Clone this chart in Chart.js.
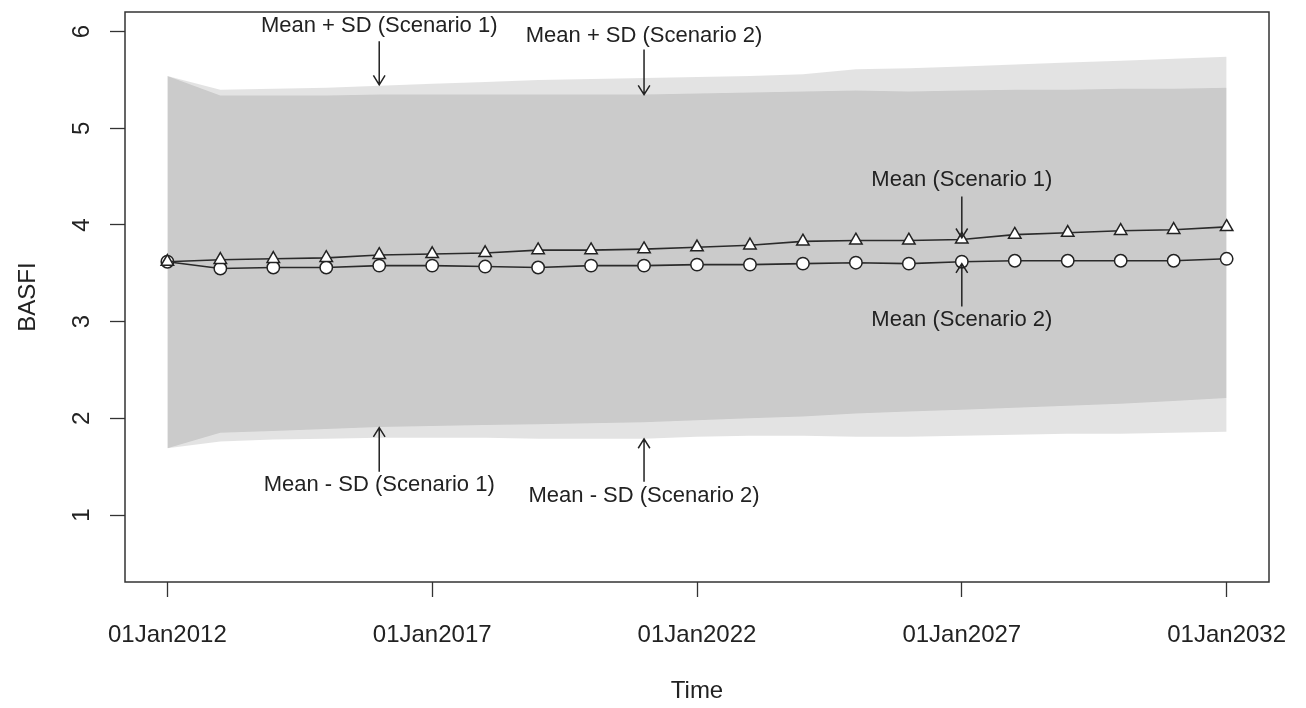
<!DOCTYPE html>
<html>
<head>
<meta charset="utf-8">
<script src="https://cdn.jsdelivr.net/npm/chart.js@4/dist/chart.umd.min.js"></script>
<style>
  html, body { margin: 0; padding: 0; background: #ffffff; }
  canvas { display: block; }
</style>
</head>
<body>
<canvas id="c" width="1306" height="708"></canvas>
<script>
// ---------- data ----------
const years = [2012,2013,2014,2015,2016,2017,2018,2019,2020,2021,2022,2023,2024,2025,2026,2027,2028,2029,2030,2031,2032];

// Mean BASFI, scenario 1 (triangles) and scenario 2 (circles)
const meanScenario1 = [3.62,3.64,3.65,3.66,3.69,3.70,3.71,3.74,3.74,3.75,3.77,3.79,3.83,3.84,3.84,3.85,3.90,3.92,3.94,3.95,3.98];
const meanScenario2 = [3.62,3.55,3.56,3.56,3.58,3.58,3.57,3.56,3.58,3.58,3.59,3.59,3.60,3.61,3.60,3.62,3.63,3.63,3.63,3.63,3.65];

// Mean + SD / Mean - SD bands
const upperScenario1 = [5.54,5.40,5.41,5.42,5.44,5.46,5.48,5.50,5.51,5.52,5.53,5.54,5.56,5.61,5.62,5.64,5.66,5.68,5.70,5.72,5.74];
const lowerScenario1 = [1.69,1.85,1.87,1.89,1.91,1.92,1.93,1.94,1.95,1.96,1.98,2.00,2.02,2.05,2.07,2.09,2.11,2.13,2.15,2.18,2.21];
const upperScenario2 = [5.54,5.34,5.34,5.34,5.35,5.35,5.35,5.35,5.35,5.35,5.36,5.37,5.38,5.39,5.38,5.39,5.40,5.40,5.41,5.41,5.42];
const lowerScenario2 = [1.69,1.76,1.78,1.79,1.80,1.80,1.80,1.79,1.79,1.79,1.81,1.82,1.82,1.81,1.81,1.82,1.83,1.84,1.84,1.85,1.86];

// axis ticks
const xTickYears = [2012,2017,2022,2027,2032];
const xTickLabels = ['01Jan2012','01Jan2017','01Jan2022','01Jan2027','01Jan2032'];
const yTickValues = [1,2,3,4,5,6];

// annotations (label, year, text value, arrow start value, arrow tip value)
const annoLabels = ['Mean + SD (Scenario 1)','Mean + SD (Scenario 2)','Mean (Scenario 1)','Mean (Scenario 2)','Mean - SD (Scenario 1)','Mean - SD (Scenario 2)'];
const annoYears = [2016,2021,2027,2027,2016,2021];
const annoTextValues = [6.055,5.951,4.461,3.019,1.311,1.200];
const annoArrowFrom = [5.900,5.814,4.295,3.156,1.448,1.345];
const annoArrowTo = [5.450,5.348,3.867,3.600,1.904,1.787];

// ---------- chart ----------
const FONT = "'Liberation Sans', Arial, sans-serif";
const TEXT = '#222222';
const AXIS = '#333333';
const pts = arr => years.map((yr, i) => ({x: yr, y: arr[i]}));
const bandFill = 'rgba(0,0,0,0.11)';

const annotationPlugin = {
  id: 'annotations',
  afterDatasetsDraw(chart) {
    const {ctx, scales: {x, y}} = chart;
    ctx.save();
    ctx.font = '22px ' + FONT;
    ctx.fillStyle = TEXT;
    ctx.strokeStyle = '#222222';
    ctx.lineWidth = 1.5;
    ctx.textAlign = 'center';
    ctx.textBaseline = 'middle';
    for (let i = 0; i < annoLabels.length; i++) {
      const px = x.getPixelForValue(annoYears[i]);
      ctx.fillText(annoLabels[i], px, y.getPixelForValue(annoTextValues[i]));
      const y0 = y.getPixelForValue(annoArrowFrom[i]);
      const y1 = y.getPixelForValue(annoArrowTo[i]);
      ctx.beginPath();
      ctx.moveTo(px, y0);
      ctx.lineTo(px, y1);
      const ang = Math.atan2(y1 - y0, 0);
      const L = 11, a = Math.PI / 180 * 32;
      ctx.moveTo(px - L * Math.cos(ang - a), y1 - L * Math.sin(ang - a));
      ctx.lineTo(px, y1);
      ctx.lineTo(px - L * Math.cos(ang + a), y1 - L * Math.sin(ang + a));
      ctx.stroke();
    }
    ctx.restore();
  },
  afterDraw(chart) {
    const {ctx, chartArea: a} = chart;
    ctx.save();
    ctx.strokeStyle = AXIS;
    ctx.lineWidth = 1.5;
    ctx.strokeRect(a.left, a.top, a.right - a.left, a.bottom - a.top);
    ctx.restore();
  }
};

new Chart(document.getElementById('c'), {
  type: 'line',
  data: {
    datasets: [
      {
        label: 'Mean (Scenario 1)', data: pts(meanScenario1),
        borderColor: '#2b2b2b', borderWidth: 1.6, tension: 0, fill: false,
        pointStyle: 'triangle', pointRadius: 7.2, pointBackgroundColor: '#ffffff',
        pointBorderColor: '#222222', pointBorderWidth: 1.5
      },
      {
        label: 'Mean (Scenario 2)', data: pts(meanScenario2),
        borderColor: '#2b2b2b', borderWidth: 1.6, tension: 0, fill: false,
        pointStyle: 'circle', pointRadius: 6.2, pointBackgroundColor: '#ffffff',
        pointBorderColor: '#222222', pointBorderWidth: 1.5
      },
      {
        label: 'Mean + SD (Scenario 1)', data: pts(upperScenario1),
        borderWidth: 0, borderColor: 'rgba(0,0,0,0)', pointRadius: 0, tension: 0,
        fill: '+1', backgroundColor: bandFill
      },
      {
        label: 'Mean - SD (Scenario 1)', data: pts(lowerScenario1),
        borderWidth: 0, borderColor: 'rgba(0,0,0,0)', pointRadius: 0, tension: 0, fill: false
      },
      {
        label: 'Mean + SD (Scenario 2)', data: pts(upperScenario2),
        borderWidth: 0, borderColor: 'rgba(0,0,0,0)', pointRadius: 0, tension: 0,
        fill: '+1', backgroundColor: bandFill
      },
      {
        label: 'Mean - SD (Scenario 2)', data: pts(lowerScenario2),
        borderWidth: 0, borderColor: 'rgba(0,0,0,0)', pointRadius: 0, tension: 0, fill: false
      }
    ]
  },
  options: {
    responsive: false,
    animation: false,
    devicePixelRatio: 1,
    layout: { padding: { top: 12, right: 37, bottom: 0, left: 0 } },
    plugins: { legend: { display: false }, tooltip: { enabled: false } },
    scales: {
      x: {
        type: 'linear', min: 2011.2, max: 2032.8,
        afterBuildTicks: s => { s.ticks = xTickYears.map(v => ({ value: v })); },
        afterFit: s => { s.height = 126; s.paddingLeft = 0; s.paddingRight = 0; },
        ticks: {
          autoSkip: false, maxRotation: 0, minRotation: 0, padding: 24,
          color: TEXT, font: { family: FONT, size: 24 },
          callback: (v) => xTickLabels[xTickYears.indexOf(v)]
        },
        grid: { drawOnChartArea: false, tickLength: 15, color: AXIS, tickWidth: 1.3 },
        border: { display: false },
        title: { display: true, text: 'Time', color: TEXT, font: { family: FONT, size: 24 }, padding: { top: 0, bottom: 2 } }
      },
      y: {
        type: 'linear', min: 0.307, max: 6.203,
        afterBuildTicks: s => { s.ticks = yTickValues.map(v => ({ value: v })); },
        afterFit: s => { s.width = 125; s.paddingTop = 0; s.paddingBottom = 0; },
        ticks: {
          autoSkip: false, minRotation: 90, maxRotation: 90, crossAlign: 'center', padding: 21,
          color: TEXT, font: { family: FONT, size: 24 },
          callback: v => String(v)
        },
        grid: { drawOnChartArea: false, tickLength: 15, color: AXIS, tickWidth: 1.3 },
        border: { display: false },
        title: { display: true, text: 'BASFI', color: TEXT, font: { family: FONT, size: 24 }, padding: { top: 14, bottom: 0 } }
      }
    }
  },
  plugins: [annotationPlugin]
});
</script>
</body>
</html>
